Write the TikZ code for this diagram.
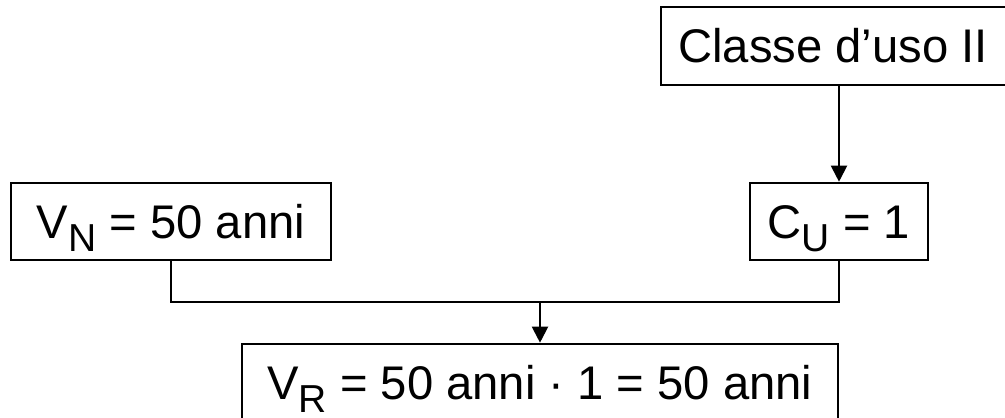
\documentclass[tikz,border=0pt]{standalone}
\usepackage{fontspec}
\setmainfont{Liberation Sans}
\usetikzlibrary{arrows.meta}

% subscript set slightly smaller and lowered
\newcommand{\sbx}[1]{\raisebox{-6.5pt}{\fontsize{19.5}{22}\selectfont #1}}

\tikzset{
  box/.style={draw=black, line width=1.3pt, fill=white, inner sep=0pt,
    font=\fontsize{23.6}{27}\selectfont, text height=16.8pt, text depth=0pt,
    minimum height=38.5pt},
  link/.style={draw=black, line width=1pt},
  arr/.style={link, -{Triangle[length=8pt,width=8pt]}}
}

\begin{document}
\begin{tikzpicture}[x=0.5pt, y=-0.5pt]
  \useasboundingbox (0,0) rectangle (1005,417);
  \fill[white] (0,0) rectangle (1005,417);
  \clip (0,0) rectangle (1005,417);

  \node[box, minimum width=184pt, minimum height=39pt] (classe) at (845,46) {\hspace*{-12pt}Classe d’uso II};
  \node[box, minimum width=89pt] (cu) at (839,221.5) {C\sbx{U} = 1};
  \node[box, minimum width=160pt] (vn) at (171,221.5) {V\sbx{N} = 50 anni};
  \node[box, minimum width=298pt] (vr) at (540,382.5) {V\sbx{R} = 50 anni · 1 = 50 anni};

  \coordinate (bus) at (vr.north |- 0,302);

  \draw[arr] (cu.north |- classe.south) -- (cu.north);
  \draw[link] (vn.south) -- (vn.south |- bus) -- (cu.south |- bus) -- (cu.south);
  \draw[arr] (bus) -- (vr.north);
\end{tikzpicture}
\end{document}
